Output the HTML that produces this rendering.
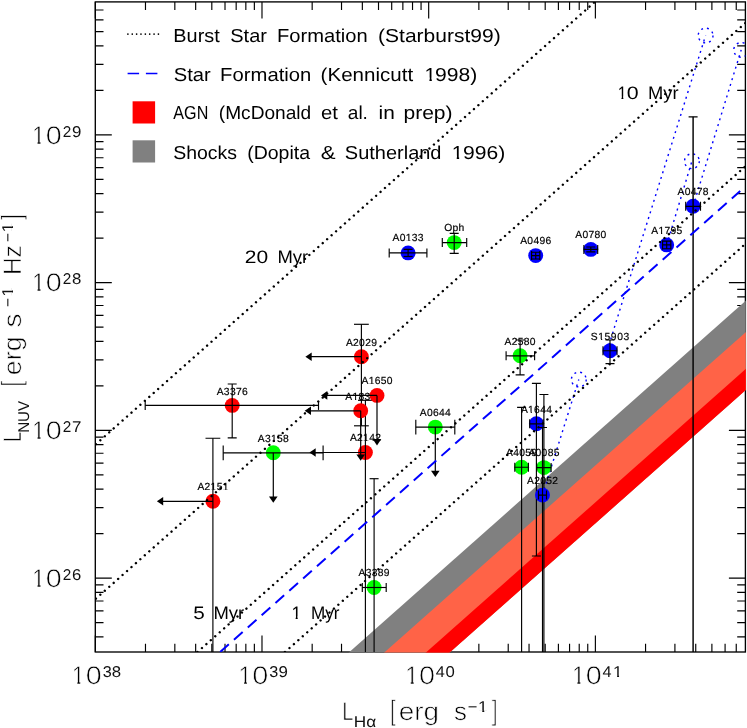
<!DOCTYPE html>
<html lang="en">
<head>
<meta charset="utf-8">
<title>NUV vs H-alpha luminosity</title>
<style>
html,body{margin:0;padding:0;background:#fff;}
body{width:747px;height:728px;overflow:hidden;font-family:"Liberation Sans",sans-serif;}
svg{display:block;font-family:"Liberation Sans",sans-serif;text-rendering:geometricPrecision;will-change:transform;}
.dot{stroke:#000;stroke-width:2.4;stroke-linecap:round;stroke-dasharray:0.01 5.933;fill:none;}
.dash{stroke:#0000ff;stroke-width:2;stroke-dasharray:11.6 6.88;fill:none;}
.bdot{stroke:#0000ff;stroke-width:1.4;stroke-dasharray:2 4;fill:none;}
.eb{stroke:#000;stroke-width:1.15;fill:none;}
.ar{stroke:#000;stroke-width:1.2;fill:none;}
.ah{fill:#000;stroke:none;}
.tk{stroke:#000;stroke-width:1.15;fill:none;}
.fr{stroke:#000;stroke-width:1.35;fill:none;}
.ldot{stroke:#000;stroke-width:1.7;stroke-linecap:round;stroke-dasharray:0.01 4.35;}
.ldash{stroke:#0000ff;stroke-width:1.5;fill:none;}
.pl{font-size:10.3px;fill:#000;letter-spacing:0.3px;stroke:#000;stroke-width:0.18;}
.lg{font-size:18.8px;fill:#000;}
.ag{font-size:18px;fill:#000;}
.tl{font-size:25.4px;fill:#000;stroke:#fff;stroke-width:0.65;paint-order:fill stroke;}
.br{font-size:28.4px;fill:#000;stroke:#fff;stroke-width:0.9;paint-order:fill stroke;}
.ex{font-size:15.6px;fill:#111;}
</style>
</head>
<body>
<svg width="747" height="728" viewBox="0 0 747 728">
<defs>
<clipPath id="pc"><rect x="95.3" y="1.9" width="650.1" height="650.1"/></clipPath>
<clipPath id="pb"><rect x="95.3" y="1.9" width="650.5" height="650.5"/></clipPath>
<clipPath id="one" clipPathUnits="objectBoundingBox"><path d="M-1 -1H2V0.66H0.64V2H0.43V0.66H-1Z"/></clipPath>
</defs>
<rect width="747" height="728" fill="#fff"/>
<path class="tk" d="M95.3 652v-16.5M95.3 1.9v16.5M145.48 652v-8.2M145.48 1.9v8.2M174.83 652v-8.2M174.83 1.9v8.2M195.66 652v-8.2M195.66 1.9v8.2M211.81 652v-8.2M211.81 1.9v8.2M225.01 652v-8.2M225.01 1.9v8.2M236.17 652v-8.2M236.17 1.9v8.2M245.84 652v-8.2M245.84 1.9v8.2M254.36 652v-8.2M254.36 1.9v8.2M261.99 652v-16.5M261.99 1.9v16.5M312.17 652v-8.2M312.17 1.9v8.2M341.52 652v-8.2M341.52 1.9v8.2M362.35 652v-8.2M362.35 1.9v8.2M378.51 652v-8.2M378.51 1.9v8.2M391.7 652v-8.2M391.7 1.9v8.2M402.86 652v-8.2M402.86 1.9v8.2M412.53 652v-8.2M412.53 1.9v8.2M421.06 652v-8.2M421.06 1.9v8.2M428.68 652v-16.5M428.68 1.9v16.5M478.86 652v-8.2M478.86 1.9v8.2M508.22 652v-8.2M508.22 1.9v8.2M529.04 652v-8.2M529.04 1.9v8.2M545.2 652v-8.2M545.2 1.9v8.2M558.4 652v-8.2M558.4 1.9v8.2M569.56 652v-8.2M569.56 1.9v8.2M579.22 652v-8.2M579.22 1.9v8.2M587.75 652v-8.2M587.75 1.9v8.2M595.38 652v-16.5M595.38 1.9v16.5M645.56 652v-8.2M645.56 1.9v8.2M674.91 652v-8.2M674.91 1.9v8.2M695.74 652v-8.2M695.74 1.9v8.2M711.89 652v-8.2M711.89 1.9v8.2M725.09 652v-8.2M725.09 1.9v8.2M736.25 652v-8.2M736.25 1.9v8.2M95.3 636.92h8.2M745.4 636.92h-8.2M95.3 622.6h8.2M745.4 622.6h-8.2M95.3 610.9h8.2M745.4 610.9h-8.2M95.3 601.01h8.2M745.4 601.01h-8.2M95.3 592.44h8.2M745.4 592.44h-8.2M95.3 584.89h8.2M745.4 584.89h-8.2M95.3 578.12h16.5M745.4 578.12h-16.5M95.3 533.65h8.2M745.4 533.65h-8.2M95.3 507.63h8.2M745.4 507.63h-8.2M95.3 489.17h8.2M745.4 489.17h-8.2M95.3 474.85h8.2M745.4 474.85h-8.2M95.3 463.15h8.2M745.4 463.15h-8.2M95.3 453.26h8.2M745.4 453.26h-8.2M95.3 444.69h8.2M745.4 444.69h-8.2M95.3 437.14h8.2M745.4 437.14h-8.2M95.3 430.38h16.5M745.4 430.38h-16.5M95.3 385.9h8.2M745.4 385.9h-8.2M95.3 359.88h8.2M745.4 359.88h-8.2M95.3 341.42h8.2M745.4 341.42h-8.2M95.3 327.1h8.2M745.4 327.1h-8.2M95.3 315.4h8.2M745.4 315.4h-8.2M95.3 305.51h8.2M745.4 305.51h-8.2M95.3 296.94h8.2M745.4 296.94h-8.2M95.3 289.39h8.2M745.4 289.39h-8.2M95.3 282.62h16.5M745.4 282.62h-16.5M95.3 238.15h8.2M745.4 238.15h-8.2M95.3 212.13h8.2M745.4 212.13h-8.2M95.3 193.67h8.2M745.4 193.67h-8.2M95.3 179.35h8.2M745.4 179.35h-8.2M95.3 167.65h8.2M745.4 167.65h-8.2M95.3 157.76h8.2M745.4 157.76h-8.2M95.3 149.19h8.2M745.4 149.19h-8.2M95.3 141.64h8.2M745.4 141.64h-8.2M95.3 134.88h16.5M745.4 134.88h-16.5M95.3 90.4h8.2M745.4 90.4h-8.2M95.3 64.38h8.2M745.4 64.38h-8.2M95.3 45.92h8.2M745.4 45.92h-8.2M95.3 31.6h8.2M745.4 31.6h-8.2M95.3 19.9h8.2M745.4 19.9h-8.2M95.3 10.01h8.2M745.4 10.01h-8.2"/>
<rect x="95.3" y="1.9" width="650.1" height="650.1" class="fr"/>
<g clip-path="url(#pb)">
<polygon points="11.95,951.13 845.42,212.38 845.42,301.68 11.95,1040.43" fill="#808080"/>
<polygon points="11.95,982.56 845.42,243.81 845.42,301.68 11.95,1040.43" fill="#ff6347"/>
<polygon points="11.95,1019.45 845.42,280.7 845.42,301.68 11.95,1040.43" fill="#ff0000"/>
</g>
<g clip-path="url(#pc)">
<line x1="607.1" y1="350.7" x2="705.6" y2="35.5" class="bdot"/>
<circle cx="705.6" cy="35.5" r="7.4" class="bdot"/>
<line x1="666.7" y1="244.9" x2="691.9" y2="161.2" class="bdot"/>
<circle cx="691.9" cy="161.2" r="7.4" class="bdot"/>
<line x1="693.1" y1="206.3" x2="741.2" y2="49.9" class="bdot"/>
<circle cx="741.2" cy="49.9" r="7.4" class="bdot"/>
<line x1="542.5" y1="495.1" x2="578.8" y2="379.5" class="bdot"/>
<circle cx="578.8" cy="379.5" r="7.4" class="bdot"/>
<text x="216.71" y="394.6" class="pl">A3376</text>
<circle cx="232.2" cy="405.4" r="7.45" fill="#ff0000"/>
<path class="eb" d="M145.2 405.4H318.5"/>
<path class="eb" d="M145.2 400.9V409.9"/>
<path class="eb" d="M318.5 400.9V409.9"/>
<path class="eb" d="M232.2 384V437.9"/>
<path class="eb" d="M227.7 384H236.7"/>
<path class="eb" d="M227.7 437.9H236.7"/>
<text x="197.41" y="490.1" class="pl">A2</text>
<text x="210.61" y="490.1" class="pl" clip-path="url(#one)">1</text>
<text x="216.64" y="490.1" class="pl">5</text>
<text x="222.66" y="490.1" class="pl" clip-path="url(#one)">1</text>
<circle cx="212.9" cy="501.3" r="7.45" fill="#ff0000"/>
<path class="eb" d="M212.9 438.2V657"/>
<path class="eb" d="M205.5 438.2H220.3"/>
<path class="ar" d="M212.9 501.3H162.2"/>
<path class="ah" d="M156.9 501.3L163.2 497L163.2 505.6Z"/>
<text x="257.81" y="441.6" class="pl">A3</text>
<text x="271.01" y="441.6" class="pl" clip-path="url(#one)">1</text>
<text x="277.04" y="441.6" class="pl">58</text>
<circle cx="273.3" cy="452.8" r="7.45" fill="#00ff00"/>
<path class="eb" d="M223.2 452.8H323.1"/>
<path class="eb" d="M223.2 445.4V460.2"/>
<path class="eb" d="M323.1 445.4V460.2"/>
<path class="ar" d="M273.3 452.8V497.5"/>
<path class="ah" d="M273.3 502.8L269 496.5L277.6 496.5Z"/>
<text x="345.91" y="346.1" class="pl">A2029</text>
<circle cx="361.4" cy="356.7" r="7.45" fill="#ff0000"/>
<path class="eb" d="M361.4 324.3V425.8"/>
<path class="eb" d="M354 324.3H368.8"/>
<path class="eb" d="M354 425.8H368.8"/>
<path class="ar" d="M361.4 356.7H310.7"/>
<path class="ah" d="M305.4 356.7L311.7 352.4L311.7 361Z"/>
<text x="349.91" y="441.3" class="pl">A2</text>
<text x="363.11" y="441.3" class="pl" clip-path="url(#one)">1</text>
<text x="369.14" y="441.3" class="pl">42</text>
<circle cx="365.4" cy="452.5" r="7.45" fill="#ff0000"/>
<path class="eb" d="M365.4 400.3V657"/>
<path class="eb" d="M358 400.3H372.8"/>
<path class="ar" d="M365.4 452.5H314.7"/>
<path class="ah" d="M309.4 452.5L315.7 448.2L315.7 456.8Z"/>
<text x="345.21" y="399.6" class="pl">A</text>
<text x="352.38" y="399.6" class="pl" clip-path="url(#one)">1</text>
<text x="358.41" y="399.6" class="pl">832</text>
<circle cx="360.7" cy="410.8" r="7.45" fill="#ff0000"/>
<path class="ar" d="M360.7 410.8H310"/>
<path class="ah" d="M304.7 410.8L311 406.5L311 415.1Z"/>
<path class="ar" d="M360.7 410.8V455.5"/>
<path class="ah" d="M360.7 460.8L356.4 454.5L365 454.5Z"/>
<text x="361.51" y="384.2" class="pl">A</text>
<text x="368.68" y="384.2" class="pl" clip-path="url(#one)">1</text>
<text x="374.71" y="384.2" class="pl">650</text>
<circle cx="377" cy="395.4" r="7.45" fill="#ff0000"/>
<path class="ar" d="M377 395.4H326.3"/>
<path class="ah" d="M321 395.4L327.3 391.1L327.3 399.7Z"/>
<path class="ar" d="M377 395.4V440.1"/>
<path class="ah" d="M377 445.4L372.7 439.1L381.3 439.1Z"/>
<text x="419.81" y="415.9" class="pl">A0644</text>
<circle cx="435.3" cy="427.1" r="7.45" fill="#00ff00"/>
<path class="eb" d="M415.8 427.1H454.8"/>
<path class="eb" d="M415.8 419.7V434.5"/>
<path class="eb" d="M454.8 419.7V434.5"/>
<path class="ar" d="M435.3 427.1V471.8"/>
<path class="ah" d="M435.3 477.1L431 470.8L439.6 470.8Z"/>
<text x="358.61" y="576.3" class="pl">A3389</text>
<circle cx="374.1" cy="587.5" r="7.45" fill="#00ff00"/>
<path class="eb" d="M362.3 587.5H386.2"/>
<path class="eb" d="M362.3 583V592"/>
<path class="eb" d="M386.2 583V592"/>
<path class="eb" d="M374.1 478.7V657"/>
<path class="eb" d="M369.6 478.7H378.6"/>
<text x="444.17" y="230.5" class="pl">Oph</text>
<circle cx="454.2" cy="242.6" r="7.45" fill="#00ff00"/>
<path class="eb" d="M442.3 242.6H466.7"/>
<path class="eb" d="M442.3 238.1V247.1"/>
<path class="eb" d="M466.7 238.1V247.1"/>
<path class="eb" d="M454.2 233.3V253.4"/>
<path class="eb" d="M449.7 233.3H458.7"/>
<path class="eb" d="M449.7 253.4H458.7"/>
<text x="504.61" y="345.1" class="pl">A2580</text>
<circle cx="520.1" cy="355.8" r="7.45" fill="#00ff00"/>
<path class="eb" d="M506.1 355.8H534.6"/>
<path class="eb" d="M506.1 351.3V360.3"/>
<path class="eb" d="M534.6 351.3V360.3"/>
<path class="eb" d="M520.1 340V374.9"/>
<path class="eb" d="M515.6 340H524.6"/>
<path class="eb" d="M515.6 374.9H524.6"/>
<text x="506.11" y="456" class="pl">A4059</text>
<circle cx="521.6" cy="467.2" r="7.45" fill="#00ff00"/>
<path class="eb" d="M514.8 467.2H528.4"/>
<path class="eb" d="M514.8 462.7V471.7"/>
<path class="eb" d="M528.4 462.7V471.7"/>
<path class="eb" d="M521.6 407.3V657"/>
<path class="eb" d="M517.1 407.3H526.1"/>
<text x="528.41" y="456.4" class="pl">A0085</text>
<circle cx="543.9" cy="467.6" r="7.45" fill="#00ff00"/>
<path class="eb" d="M536.7 467.6H551.1"/>
<path class="eb" d="M536.7 463.1V472.1"/>
<path class="eb" d="M551.1 463.1V472.1"/>
<path class="eb" d="M543.9 394.5V657"/>
<path class="eb" d="M539.4 394.5H548.4"/>
<text x="392.61" y="241.1" class="pl">A0</text>
<text x="405.81" y="241.1" class="pl" clip-path="url(#one)">1</text>
<text x="411.84" y="241.1" class="pl">33</text>
<circle cx="408.1" cy="252.9" r="7.45" fill="#0000ff"/>
<path class="eb" d="M389.2 252.9H426.9"/>
<path class="eb" d="M389.2 248.4V257.4"/>
<path class="eb" d="M426.9 248.4V257.4"/>
<path class="eb" d="M408.1 249.3V256.5"/>
<path class="eb" d="M403.6 249.3H412.6"/>
<path class="eb" d="M403.6 256.5H412.6"/>
<text x="520.21" y="244.4" class="pl">A0496</text>
<circle cx="535.7" cy="255.6" r="7.45" fill="#0000ff"/>
<path class="eb" d="M531.6 255.6H539.8"/>
<path class="eb" d="M531.6 251.1V260.1"/>
<path class="eb" d="M539.8 251.1V260.1"/>
<path class="eb" d="M535.7 252.2V259"/>
<path class="eb" d="M531.2 252.2H540.2"/>
<path class="eb" d="M531.2 259H540.2"/>
<text x="575.31" y="238.2" class="pl">A0780</text>
<circle cx="590.8" cy="249.4" r="7.45" fill="#0000ff"/>
<path class="eb" d="M583.9 249.4H597.7"/>
<path class="eb" d="M583.9 244.9V253.9"/>
<path class="eb" d="M597.7 244.9V253.9"/>
<path class="eb" d="M590.8 247V251.8"/>
<path class="eb" d="M586.3 247H595.3"/>
<path class="eb" d="M586.3 251.8H595.3"/>
<text x="651.21" y="233.7" class="pl">A</text>
<text x="658.38" y="233.7" class="pl" clip-path="url(#one)">1</text>
<text x="664.41" y="233.7" class="pl">795</text>
<circle cx="666.7" cy="244.9" r="7.45" fill="#0000ff"/>
<path class="eb" d="M662.6 244.9H670.8"/>
<path class="eb" d="M662.6 240.4V249.4"/>
<path class="eb" d="M670.8 240.4V249.4"/>
<path class="eb" d="M666.7 241.1V248.7"/>
<path class="eb" d="M662.2 241.1H671.2"/>
<path class="eb" d="M662.2 248.7H671.2"/>
<text x="677.61" y="195.1" class="pl">A0478</text>
<circle cx="693.1" cy="206.3" r="7.45" fill="#0000ff"/>
<path class="eb" d="M685.7 206.3H700.5"/>
<path class="eb" d="M685.7 201.8V210.8"/>
<path class="eb" d="M700.5 201.8V210.8"/>
<path class="eb" style="stroke-width:1.45" d="M693.1 116.8V657"/>
<path class="eb" d="M688.6 116.8H697.6"/>
<text x="590.74" y="339.8" class="pl" style="letter-spacing:0.6px">S</text>
<text x="598.21" y="339.8" class="pl" clip-path="url(#one)" style="letter-spacing:0.6px">1</text>
<text x="604.54" y="339.8" class="pl" style="letter-spacing:0.6px">5903</text>
<circle cx="610" cy="350.7" r="7.45" fill="#0000ff"/>
<path class="eb" d="M603 350.7H617"/>
<path class="eb" d="M603 346.2V355.2"/>
<path class="eb" d="M617 346.2V355.2"/>
<path class="eb" d="M610 340V363.6"/>
<path class="eb" d="M605.5 340H614.5"/>
<path class="eb" d="M605.5 363.6H614.5"/>
<text x="520.91" y="412.6" class="pl">A</text>
<text x="528.08" y="412.6" class="pl" clip-path="url(#one)">1</text>
<text x="534.11" y="412.6" class="pl">644</text>
<circle cx="536.4" cy="423.8" r="7.45" fill="#0000ff"/>
<path class="eb" d="M529.7 423.8H543.1"/>
<path class="eb" d="M529.7 419.3V428.3"/>
<path class="eb" d="M543.1 419.3V428.3"/>
<path class="eb" d="M536.4 383.3V556"/>
<path class="eb" d="M531.9 383.3H540.9"/>
<path class="eb" d="M531.9 556H540.9"/>
<text x="527.01" y="483.9" class="pl">A2052</text>
<circle cx="542.5" cy="495.1" r="7.45" fill="#0000ff"/>
<path class="eb" d="M538.5 495.1H546.5"/>
<path class="eb" d="M538.5 490.6V499.6"/>
<path class="eb" d="M546.5 490.6V499.6"/>
<path class="eb" d="M542.5 427.5V657"/>
<path class="eb" d="M538 427.5H547"/>
</g>
<g clip-path="url(#pc)">
<line x1="95.9" y1="444.17" x2="762.07" y2="-146.29" class="dot"/>
<line x1="95.9" y1="598.63" x2="762.07" y2="8.16" class="dot"/>
<line x1="197.48" y1="652" x2="762.07" y2="151.57" class="dot"/>
<line x1="285" y1="652" x2="762.07" y2="229.14" class="dot"/>
<line x1="220.15" y1="652" x2="740.2" y2="191.05" class="dash"/>
</g>
<line x1="127.9" y1="34.1" x2="160" y2="34.1" class="ldot"/>
<path d="M127.6 73.5h11.5M145.9 73.5h11.5" class="ldash"/>
<rect x="132.6" y="101.3" width="22.5" height="22.2" fill="#ff0000"/>
<rect x="132.6" y="140.3" width="22.5" height="22.2" fill="#808080"/>
<text x="173.37" y="41.8" class="lg" textLength="46.38" lengthAdjust="spacingAndGlyphs">Burst</text>
<text x="230.29" y="41.8" class="lg" textLength="36.64" lengthAdjust="spacingAndGlyphs">Star</text>
<text x="277.05" y="41.8" class="lg" textLength="90.66" lengthAdjust="spacingAndGlyphs">Formation</text>
<text x="378.1" y="41.8" class="lg" textLength="122.61" lengthAdjust="spacingAndGlyphs">(Starburst99)</text>
<text x="173.79" y="80.7" class="lg" textLength="36.95" lengthAdjust="spacingAndGlyphs">Star</text>
<text x="220.14" y="80.7" class="lg" textLength="91.18" lengthAdjust="spacingAndGlyphs">Formation</text>
<text x="320.63" y="80.7" class="lg" textLength="92.52" lengthAdjust="spacingAndGlyphs">(Kennicutt</text>
<text x="424.53" y="80.7" class="lg" textLength="11.41" lengthAdjust="spacingAndGlyphs" clip-path="url(#one)">1</text>
<text x="435.11" y="80.7" class="lg" textLength="42.2" lengthAdjust="spacingAndGlyphs">998)</text>
<text x="173.37" y="119.2" class="lg" textLength="34.95" lengthAdjust="spacingAndGlyphs">AGN</text>
<text x="218.81" y="119.2" class="lg" textLength="92.42" lengthAdjust="spacingAndGlyphs">(McDonald</text>
<text x="321.04" y="119.2" class="lg" textLength="16.91" lengthAdjust="spacingAndGlyphs">et</text>
<text x="347.79" y="119.2" class="lg" textLength="20.15" lengthAdjust="spacingAndGlyphs">al.</text>
<text x="378.5" y="119.2" class="lg" textLength="16.25" lengthAdjust="spacingAndGlyphs">in</text>
<text x="403.44" y="119.2" class="lg" textLength="49.16" lengthAdjust="spacingAndGlyphs">prep)</text>
<text x="173.22" y="158.6" class="lg" textLength="63.79" lengthAdjust="spacingAndGlyphs">Shocks</text>
<text x="247.19" y="158.6" class="lg" textLength="62.81" lengthAdjust="spacingAndGlyphs">(Dopita</text>
<text x="320.72" y="158.6" class="lg" textLength="14.83" lengthAdjust="spacingAndGlyphs">&amp;</text>
<text x="344.89" y="158.6" class="lg" textLength="96.59" lengthAdjust="spacingAndGlyphs">Sutherland</text>
<text x="451.83" y="158.6" class="lg" textLength="11.41" lengthAdjust="spacingAndGlyphs" clip-path="url(#one)">1</text>
<text x="463.01" y="158.6" class="lg" textLength="42.2" lengthAdjust="spacingAndGlyphs">996)</text>
<text x="193.17" y="619" class="ag" textLength="11.5" lengthAdjust="spacingAndGlyphs">5</text>
<text x="213.49" y="619" class="ag" textLength="30.72" lengthAdjust="spacingAndGlyphs">Myr</text>
<text x="291.4" y="619" class="ag" textLength="9.82" lengthAdjust="spacingAndGlyphs" clip-path="url(#one)">1</text>
<text x="311" y="619" class="ag" textLength="28.49" lengthAdjust="spacingAndGlyphs">Myr</text>
<text x="244.74" y="262.7" class="ag" textLength="23.38" lengthAdjust="spacingAndGlyphs">20</text>
<text x="277.49" y="262.7" class="ag" textLength="30.72" lengthAdjust="spacingAndGlyphs">Myr</text>
<text x="617.66" y="99.3" class="ag" textLength="8.9" lengthAdjust="spacingAndGlyphs" clip-path="url(#one)">1</text>
<text x="626.77" y="99.3" class="ag" textLength="11.87" lengthAdjust="spacingAndGlyphs">0</text>
<text x="648.1" y="99.3" class="ag" textLength="30.51" lengthAdjust="spacingAndGlyphs">Myr</text>
<text x="71.85" y="684" class="tl" textLength="13.01" lengthAdjust="spacingAndGlyphs" clip-path="url(#one)">1</text>
<text x="85.67" y="684" class="tl" textLength="16.06" lengthAdjust="spacingAndGlyphs">0</text>
<text x="102.68" y="676.9" class="ex" textLength="9.03" lengthAdjust="spacingAndGlyphs">3</text>
<text x="111.77" y="676.9" class="ex" textLength="9.36" lengthAdjust="spacingAndGlyphs">8</text>
<text x="238.54" y="684" class="tl" textLength="13.01" lengthAdjust="spacingAndGlyphs" clip-path="url(#one)">1</text>
<text x="252.36" y="684" class="tl" textLength="16.06" lengthAdjust="spacingAndGlyphs">0</text>
<text x="269.37" y="676.9" class="ex" textLength="9.03" lengthAdjust="spacingAndGlyphs">3</text>
<text x="278.5" y="676.9" class="ex" textLength="9.39" lengthAdjust="spacingAndGlyphs">9</text>
<text x="405.23" y="684" class="tl" textLength="13.01" lengthAdjust="spacingAndGlyphs" clip-path="url(#one)">1</text>
<text x="419.06" y="684" class="tl" textLength="16.06" lengthAdjust="spacingAndGlyphs">0</text>
<text x="435.71" y="676.9" class="ex" textLength="9.05" lengthAdjust="spacingAndGlyphs">4</text>
<text x="445.53" y="676.9" class="ex" textLength="9.31" lengthAdjust="spacingAndGlyphs">0</text>
<text x="571.93" y="684" class="tl" textLength="13.01" lengthAdjust="spacingAndGlyphs" clip-path="url(#one)">1</text>
<text x="585.75" y="684" class="tl" textLength="16.06" lengthAdjust="spacingAndGlyphs">0</text>
<text x="602.4" y="676.9" class="ex" textLength="9.05" lengthAdjust="spacingAndGlyphs">4</text>
<text x="613.06" y="676.9" class="ex" textLength="9.36" lengthAdjust="spacingAndGlyphs" clip-path="url(#one)">1</text>
<text x="32.05" y="586.92" class="tl" textLength="13.01" lengthAdjust="spacingAndGlyphs" clip-path="url(#one)">1</text>
<text x="45.87" y="586.92" class="tl" textLength="16.06" lengthAdjust="spacingAndGlyphs">0</text>
<text x="62.63" y="579.82" class="ex" textLength="8.55" lengthAdjust="spacingAndGlyphs">2</text>
<text x="71.95" y="579.82" class="ex" textLength="9.28" lengthAdjust="spacingAndGlyphs">6</text>
<text x="32.05" y="439.18" class="tl" textLength="13.01" lengthAdjust="spacingAndGlyphs" clip-path="url(#one)">1</text>
<text x="45.87" y="439.18" class="tl" textLength="16.06" lengthAdjust="spacingAndGlyphs">0</text>
<text x="62.63" y="432.07" class="ex" textLength="8.55" lengthAdjust="spacingAndGlyphs">2</text>
<text x="71.93" y="432.07" class="ex" textLength="9.42" lengthAdjust="spacingAndGlyphs">7</text>
<text x="32.05" y="291.43" class="tl" textLength="13.01" lengthAdjust="spacingAndGlyphs" clip-path="url(#one)">1</text>
<text x="45.87" y="291.43" class="tl" textLength="16.06" lengthAdjust="spacingAndGlyphs">0</text>
<text x="62.63" y="284.32" class="ex" textLength="8.55" lengthAdjust="spacingAndGlyphs">2</text>
<text x="71.97" y="284.32" class="ex" textLength="9.36" lengthAdjust="spacingAndGlyphs">8</text>
<text x="32.05" y="143.68" class="tl" textLength="13.01" lengthAdjust="spacingAndGlyphs" clip-path="url(#one)">1</text>
<text x="45.87" y="143.68" class="tl" textLength="16.06" lengthAdjust="spacingAndGlyphs">0</text>
<text x="62.63" y="136.58" class="ex" textLength="8.55" lengthAdjust="spacingAndGlyphs">2</text>
<text x="72.01" y="136.58" class="ex" textLength="9.39" lengthAdjust="spacingAndGlyphs">9</text>
<g transform="translate(344,719.6)">
<text x="-1.66" y="0" class="tl" textLength="11.23" lengthAdjust="spacingAndGlyphs">L</text>
<text x="9.89" y="7.2" class="ex" textLength="22.41" lengthAdjust="spacingAndGlyphs">H&#945;</text>
<text x="45.93" y="0" class="br" textLength="5.73" lengthAdjust="spacingAndGlyphs">[</text>
<text x="54.72" y="0" class="tl" textLength="40.28" lengthAdjust="spacingAndGlyphs">erg</text>
<text x="110.08" y="0" class="tl" textLength="12.96" lengthAdjust="spacingAndGlyphs">s</text>
<text x="123.79" y="-7.6" class="ex" textLength="9.62" lengthAdjust="spacingAndGlyphs">&#8722;</text>
<text x="134.14" y="-7.6" class="ex" textLength="9.59" lengthAdjust="spacingAndGlyphs" clip-path="url(#one)">1</text>
<text x="147.74" y="0" class="br" textLength="5.73" lengthAdjust="spacingAndGlyphs">]</text>
</g>
<g transform="translate(20.8,440.4) rotate(-90)">
<text x="-1.49" y="0" class="tl" textLength="10.09" lengthAdjust="spacingAndGlyphs">L</text>
<text x="7.56" y="8.6" class="ex" textLength="32.01" lengthAdjust="spacingAndGlyphs">NUV</text>
<text x="53.93" y="0" class="br" textLength="5.73" lengthAdjust="spacingAndGlyphs">[</text>
<text x="65.26" y="0" class="tl" textLength="38.66" lengthAdjust="spacingAndGlyphs">erg</text>
<text x="112.91" y="0" class="tl" textLength="14.1" lengthAdjust="spacingAndGlyphs">s</text>
<text x="133.53" y="-7.6" class="ex" textLength="9.14" lengthAdjust="spacingAndGlyphs">&#8722;</text>
<text x="143.98" y="-7.6" class="ex" textLength="9.36" lengthAdjust="spacingAndGlyphs" clip-path="url(#one)">1</text>
<text x="165.29" y="0" class="tl" textLength="29.93" lengthAdjust="spacingAndGlyphs">Hz</text>
<text x="198.43" y="-7.6" class="ex" textLength="9.14" lengthAdjust="spacingAndGlyphs">&#8722;</text>
<text x="208.28" y="-7.6" class="ex" textLength="9.36" lengthAdjust="spacingAndGlyphs" clip-path="url(#one)">1</text>
<text x="220.34" y="0" class="br" textLength="5.73" lengthAdjust="spacingAndGlyphs">]</text>
</g>
</svg>
</body>
</html>
